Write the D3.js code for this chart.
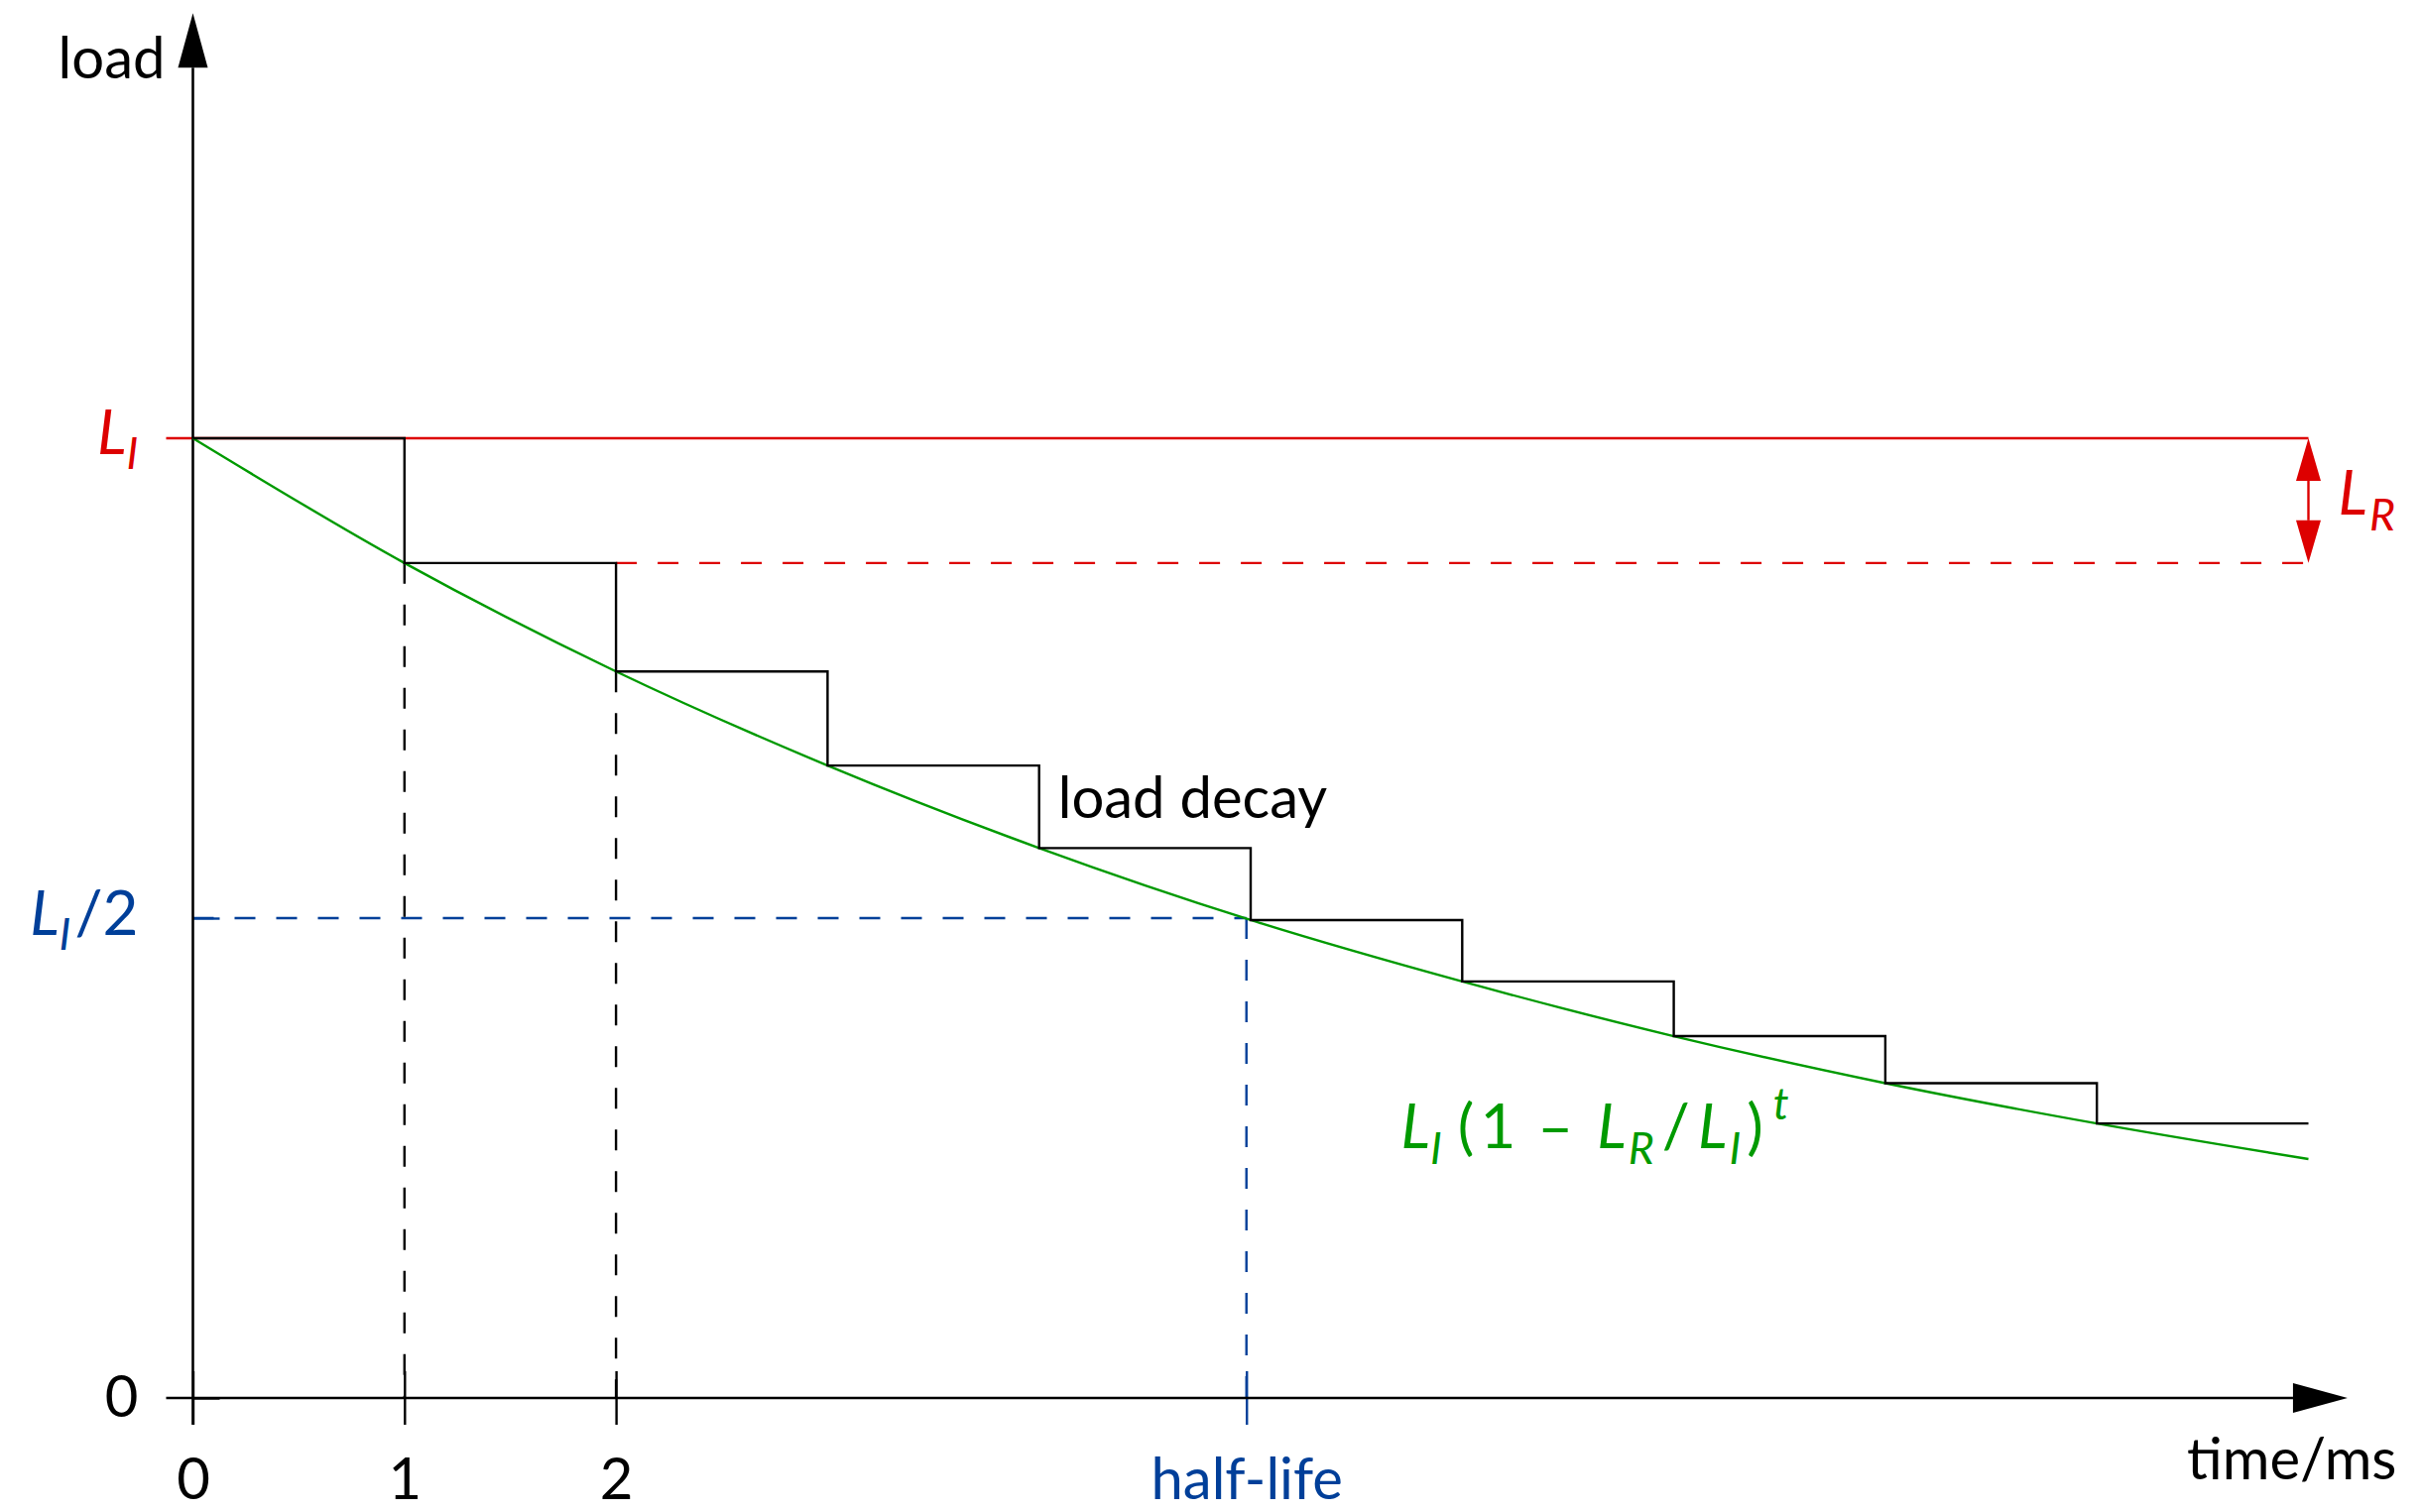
<!DOCTYPE html>
<html>
<head>
<meta charset="utf-8">
<script src="https://cdnjs.cloudflare.com/ajax/libs/d3/7.8.5/d3.min.js"></script>
<style>
  body { margin: 0; background: #fff; }
  svg { display: block; font-family: Lato, sans-serif; }
  text { white-space: pre; }
</style>
</head>
<body>
<svg width="2440" height="1525"></svg>
<script>
// load in units of L_I
var stepTimes = [0, 1, 2, 3, 4, 5, 6, 7, 8, 9, 10];
var stepLoad = [1, 0.87, 0.757, 0.659, 0.573, 0.498, 0.434, 0.377, 0.328, 0.286, 0.286];
var decayTimes = [0, 1, 2, 3, 4, 5, 6, 7, 8, 9, 10];
var decayLoad = [1, 0.87, 0.757, 0.659, 0.573, 0.498, 0.434, 0.377, 0.328, 0.286, 0.249];
var initialLoad = 1, reducedLoad = 0.87, halfLoad = 0.5, halfLife = 4.98;
var xTickValues = [0, 1, 2];
var xTickLabels = ["0", "1", "2"];
var yTickValues = [0, halfLoad, initialLoad];

var red = "#dd0000", green = "#009a00", blue = "#003f99";
var tick = 27, fs = 58, ms = 62;

var svg = d3.select("svg"),
    x = d3.scaleLinear().domain([0, 10]).range([194.5, 2327.5]),
    y = d3.scaleLinear().domain([0, 1]).range([1410, 442]);

// draws italic / sub / sup pieces as tspans; p = [text, kind, dx]
function mathText(text, parts, size, base) {
  var shift = -(base || 0);
  text.attr("dy", null);
  parts.forEach(function(p) {
    var small = p[1] === "sub" || p[1] === "sup";
    var target = p[1] === "sub" ? size * 0.25 : p[1] === "sup" ? -size * 0.48 : 0;
    text.append("tspan")
      .attr("dy", target - shift)
      .attr("dx", p[2] || 0)
      .attr("font-size", small ? size * 0.72 : size)
      .attr("font-style", p[1] === "" ? "normal" : "italic")
      .text(p[0]);
    shift = target;
  });
}

// red reference lines
svg.append("line")
    .attr("x1", x(0) - tick).attr("x2", x(10))
    .attr("y1", y(initialLoad)).attr("y2", y(initialLoad))
    .attr("stroke", red).attr("stroke-width", 2.4);
svg.append("line")
    .attr("x1", x(2)).attr("x2", x(10))
    .attr("y1", y(reducedLoad)).attr("y2", y(reducedLoad))
    .attr("stroke", red).attr("stroke-width", 2.4)
    .attr("stroke-dasharray", "21,21");

// half-life guides
svg.append("line")
    .attr("x1", x(0)).attr("x2", x(halfLife))
    .attr("y1", y(halfLoad)).attr("y2", y(halfLoad))
    .attr("stroke", blue).attr("stroke-width", 2.4)
    .attr("stroke-dasharray", "21,21");
svg.append("line")
    .attr("x1", x(halfLife)).attr("x2", x(halfLife))
    .attr("y1", y(halfLoad)).attr("y2", y(0))
    .attr("stroke", blue).attr("stroke-width", 2.4)
    .attr("stroke-dasharray", "21,21");

// black dashed drops at t = 1, 2
svg.selectAll(".drop")
    .data([1, 2])
  .enter().append("line")
    .attr("class", "drop")
    .attr("x1", function(d) { return x(d); })
    .attr("x2", function(d) { return x(d); })
    .attr("y1", function(d) { return y(stepLoad[d]); })
    .attr("y2", y(0))
    .attr("stroke", "#000").attr("stroke-width", 2.4)
    .attr("stroke-dasharray", "21,21");

// x axis
var xAxis = d3.axisBottom(x)
    .tickValues(xTickValues.concat([halfLife]))
    .tickSize(tick)
    .tickPadding(34)
    .tickFormat(function(d, i) { return i < xTickLabels.length ? xTickLabels[i] : "half-life"; });
var gx = svg.append("g")
    .attr("transform", "translate(0," + y(0) + ")")
    .call(xAxis)
    .attr("font-size", fs).attr("font-family", "Lato, sans-serif");
gx.select(".domain").remove();
gx.selectAll(".tick line").attr("y1", -tick).attr("stroke-width", 2.4);
gx.selectAll(".tick").filter(function(d) { return d === halfLife; }).style("color", blue);

// y axis
var yAxis = d3.axisLeft(y)
    .tickValues(yTickValues)
    .tickSize(tick)
    .tickPadding(28)
    .tickFormat("");
var gy = svg.append("g")
    .attr("transform", "translate(" + x(0) + ",0)")
    .call(yAxis)
    .attr("font-size", fs).attr("font-family", "Lato, sans-serif");
gy.select(".domain").remove();
gy.selectAll(".tick line").attr("x2", tick).attr("stroke-width", 2.4);
gy.selectAll(".tick").each(function(d) {
  var g = d3.select(this), t = g.select("text");
  if (d === 0) { t.text("0"); }
  else if (d === halfLoad) {
    g.style("color", blue);
    mathText(t, [["L", "i"], ["I", "sub"], ["/2", "", 4]], ms, 16);
  } else {
    g.style("color", red);
    g.select("line").attr("stroke-opacity", 0);
    mathText(t, [["L", "i"], ["I", "sub"]], ms, 15);
  }
});

// axis lines with arrow heads
var xEnd = x(10.185), yEnd = y(1.443), head = 55, half = 15;
svg.append("line")
    .attr("x1", x(0) - tick).attr("x2", xEnd - head)
    .attr("y1", y(0)).attr("y2", y(0))
    .attr("stroke", "#000").attr("stroke-width", 2.6);
svg.append("path")
    .attr("d", "M" + xEnd + "," + y(0) + "L" + (xEnd - head) + "," + (y(0) - half) +
               "L" + (xEnd - head) + "," + (y(0) + half) + "Z");
svg.append("line")
    .attr("x1", x(0)).attr("x2", x(0))
    .attr("y1", y(0) + tick).attr("y2", yEnd + head)
    .attr("stroke", "#000").attr("stroke-width", 2.6);
svg.append("path")
    .attr("d", "M" + x(0) + "," + yEnd + "L" + (x(0) - half) + "," + (yEnd + head) +
               "L" + (x(0) + half) + "," + (yEnd + head) + "Z");

svg.append("text")
    .attr("x", x(0) - 28).attr("y", 79)
    .attr("text-anchor", "end").attr("font-size", fs)
    .text("load");
svg.append("text")
    .attr("x", 2205).attr("y", 1492)
    .attr("font-size", fs)
    .text("time/ms");

// exponential decay curve
var curve = d3.line()
    .x(function(d, i) { return x(decayTimes[i]); })
    .y(function(d) { return y(d); })
    .curve(d3.curveMonotoneX);
svg.append("path")
    .attr("d", curve(decayLoad))
    .attr("fill", "none").attr("stroke", green).attr("stroke-width", 2.4);

// step function
var steps = d3.line()
    .x(function(d, i) { return x(stepTimes[i]); })
    .y(function(d) { return y(d); })
    .curve(d3.curveStepAfter);
svg.append("path")
    .attr("d", steps(stepLoad))
    .attr("fill", "none").attr("stroke", "#000").attr("stroke-width", 2.4);

// L_R double arrow
var ah = 43, aw = 12.5, ax = x(10), a1 = y(initialLoad), a2 = y(reducedLoad);
svg.append("line")
    .attr("x1", ax).attr("x2", ax)
    .attr("y1", a1 + ah).attr("y2", a2 - ah)
    .attr("stroke", red).attr("stroke-width", 2.4);
svg.append("path")
    .attr("fill", red)
    .attr("d", "M" + ax + "," + a1 + "L" + (ax - aw) + "," + (a1 + ah) + "L" + (ax + aw) + "," + (a1 + ah) + "Z" +
               "M" + ax + "," + a2 + "L" + (ax - aw) + "," + (a2 - ah) + "L" + (ax + aw) + "," + (a2 - ah) + "Z");

var lr = svg.append("text")
    .attr("x", ax + 30).attr("y", y(0.92))
    .attr("fill", red);
mathText(lr, [["L", "i"], ["R", "sub", 2]], ms);

svg.append("text")
    .attr("x", x(4) + 19).attr("y", y(0.604))
    .attr("font-size", fs)
    .text("load decay");

var formula = svg.append("text")
    .attr("x", x(5.71)).attr("y", y(0.26))
    .attr("fill", green);
mathText(formula, [["L", "i"], ["I", "sub"], ["(", "", 16], ["1", "", 6], ["–", "", 22],
                   ["L", "i", 24], ["R", "sub", 2], ["/", "", 8], ["L", "i", 8], ["I", "sub", 2],
                   [")", "", 6], ["t", "sup", 10]], ms);
</script>
</body>
</html>
